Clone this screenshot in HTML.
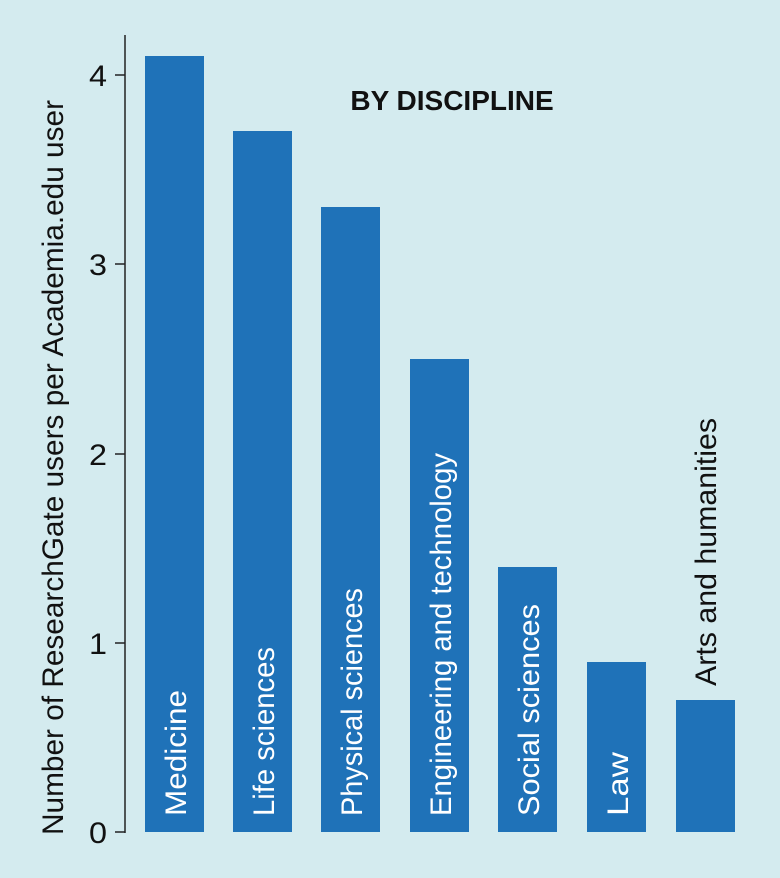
<!DOCTYPE html>
<html><head><meta charset="utf-8"><style>
body{margin:0;background:#d4ebef;}
svg{display:block}
text{font-family:"Liberation Sans Narrow","Liberation Sans",sans-serif;}
</style></head><body>
<svg width="780" height="878" viewBox="0 0 780 878">
<rect width="780" height="878" fill="#d4ebef"/>
<line x1="125" y1="35" x2="125" y2="833" stroke="#222" stroke-width="1.5"/>
<g stroke="#222" stroke-width="1.5">
<line x1="115" y1="832" x2="125" y2="832"/><line x1="115" y1="643" x2="125" y2="643"/>
<line x1="115" y1="454" x2="125" y2="454"/><line x1="115" y1="264" x2="125" y2="264"/>
<line x1="115" y1="75" x2="125" y2="75"/>
</g>
<g font-size="30" fill="#111" text-anchor="end">
<text x="107" y="843" textLength="18" lengthAdjust="spacingAndGlyphs">0</text>
<text x="107" y="654" textLength="18" lengthAdjust="spacingAndGlyphs">1</text>
<text x="107" y="465" textLength="18" lengthAdjust="spacingAndGlyphs">2</text>
<text x="107" y="275" textLength="18" lengthAdjust="spacingAndGlyphs">3</text>
<text x="107" y="86" textLength="18" lengthAdjust="spacingAndGlyphs">4</text>
</g>
<text transform="translate(63,835) rotate(-90)" font-size="30" fill="#111" textLength="735" lengthAdjust="spacingAndGlyphs">Number of ResearchGate users per Academia.edu user</text>
<text x="452" y="110" font-size="28" font-weight="bold" text-anchor="middle" fill="#111">BY DISCIPLINE</text>
<g fill="#1f72b8">
<rect x="145" y="56" width="59" height="776"/>
<rect x="233" y="131" width="59" height="701"/>
<rect x="321" y="207" width="59" height="625"/>
<rect x="410" y="359" width="59" height="473"/>
<rect x="498" y="567" width="59" height="265"/>
<rect x="587" y="662" width="59" height="170"/>
<rect x="676" y="700" width="59" height="132"/>
</g>
<g font-size="30" fill="#fff">
<text transform="translate(186,816) rotate(-90)" textLength="126" lengthAdjust="spacingAndGlyphs">Medicine</text>
<text transform="translate(274,816) rotate(-90)" textLength="169" lengthAdjust="spacingAndGlyphs">Life sciences</text>
<text transform="translate(362,816) rotate(-90)" textLength="228" lengthAdjust="spacingAndGlyphs">Physical sciences</text>
<text transform="translate(451,816) rotate(-90)" textLength="363" lengthAdjust="spacingAndGlyphs">Engineering and technology</text>
<text transform="translate(539,816) rotate(-90)" textLength="212" lengthAdjust="spacingAndGlyphs">Social sciences</text>
<text transform="translate(628,816) rotate(-90)" textLength="64" lengthAdjust="spacingAndGlyphs">Law</text>
</g>
<text transform="translate(716,686) rotate(-90)" font-size="30" fill="#111" textLength="268" lengthAdjust="spacingAndGlyphs">Arts and humanities</text>
</svg>
</body></html>
